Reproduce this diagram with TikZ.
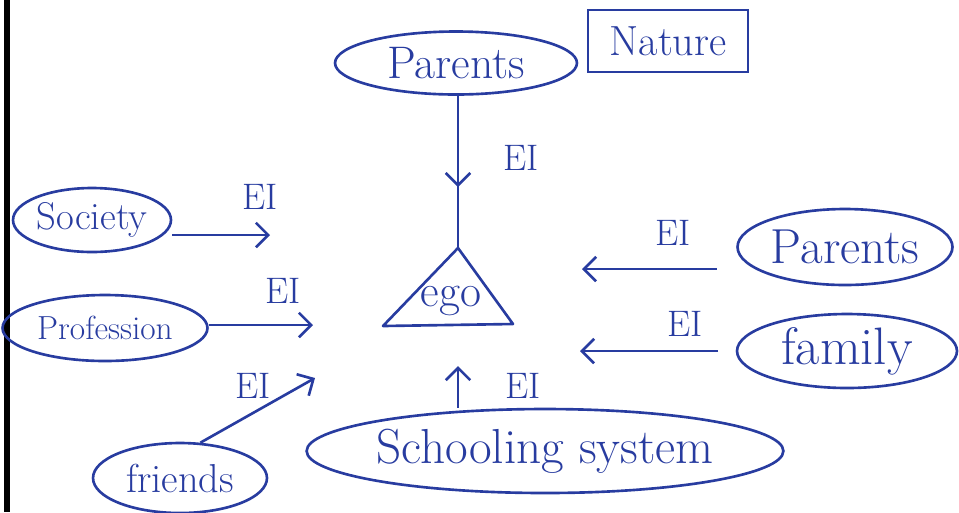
\documentclass[tikz,border=0pt]{standalone}
\usetikzlibrary{arrows.meta,decorations.markings,shapes.geometric}
\definecolor{ink}{RGB}{40,60,160}
\begin{document}
\begin{tikzpicture}[x=0.02cm,y=-0.02cm,
  oval/.style={ellipse, draw=ink, line width=1.5pt, text=ink, inner sep=0pt},
  boxed/.style={rectangle, draw=ink, line width=1.5pt, text=ink, inner sep=0pt},
  lab/.style={text=ink, font=\fontsize{21}{24}\selectfont},
  arr/.style={draw=ink, line width=1.5pt, -{Straight Barb[length=7pt,width=14pt,line width=1.5pt]}},
  plain/.style={draw=ink, line width=1.5pt}]
\useasboundingbox (0,0) rectangle (959,512);
\fill[black] (4,0) rectangle (10,512);

% nodes
\node[oval, minimum width=4.84cm, minimum height=1.26cm, font=\fontsize{26}{28}\selectfont] (parentsTop) at (456,63) {Parents};
\node[boxed, minimum width=3.2cm, minimum height=1.24cm, font=\fontsize{24}{26}\selectfont] (nature) at (668,41) {Nature};
\node[oval, minimum width=3.16cm, minimum height=1.28cm, font=\fontsize{22}{24}\selectfont] (society) at (92,220) {Society};
\node[oval, minimum width=4.1cm, minimum height=1.32cm, font=\fontsize{19}{21}\selectfont] (profession) at (105,328) {Profession};
\node[oval, minimum width=3.48cm, minimum height=1.4cm, font=\fontsize{23}{25}\selectfont] (friends) at (180,478) {friends};
\node[oval, minimum width=8.48cm, minimum height=1.68cm, font=\fontsize{28}{30}\selectfont] (schooling) at (545,451) {Schooling system};
\node[oval, minimum width=4.4cm, minimum height=1.48cm, font=\fontsize{30}{32}\selectfont] (family) at (847,351) {family};
\node[oval, minimum width=4.3cm, minimum height=1.52cm, font=\fontsize{28}{30}\selectfont] (parentsR) at (845,247) {Parents};

% ego triangle
\coordinate (apex) at (458,248);
\coordinate (bl) at (383,326);
\coordinate (br) at (513,324);
\draw[plain, line join=round] (apex) -- (bl) -- (br) -- cycle;
\node[text=ink, font=\fontsize{26}{28}\selectfont] (ego) at (451,301) {ego};

% free arrow ends
\coordinate (s1) at (270,235);
\coordinate (p1) at (313,325);
\coordinate (f1) at (315,378);
\coordinate (sc1) at (458,366);
\coordinate (pr1) at (582,269);
\coordinate (fa1) at (580,351);

% connectors
\draw[plain, postaction={decorate}, decoration={markings,
  mark=at position 0.6 with {\arrow{Straight Barb[length=7pt,width=14pt,line width=1.5pt]}}}]
  (parentsTop.south -| apex) -- (apex);
\draw[arr] (society.east |- s1) -- (s1);
\draw[arr] (profession.east |- p1) -- (p1);
\draw[arr] (friends.60) -- (f1);
\draw[arr] (schooling.north -| sc1) -- (sc1);
\draw[arr, shorten <=11pt] (parentsR.west |- pr1) -- (pr1);
\draw[arr, shorten <=10pt] (family.west |- fa1) -- (fa1);

% labels
\node[lab] (eiTop) at (521,158) {EI};
\node[lab] (eiSoc) at (260,197) {EI};
\node[lab] (eiProf) at (283,291) {EI};
\node[lab] (eiFr) at (253,386) {EI};
\node[lab] (eiSch) at (523,386) {EI};
\node[lab] (eiPar) at (673,233) {EI};
\node[lab] (eiFam) at (685,324) {EI};
\end{tikzpicture}
\end{document}
